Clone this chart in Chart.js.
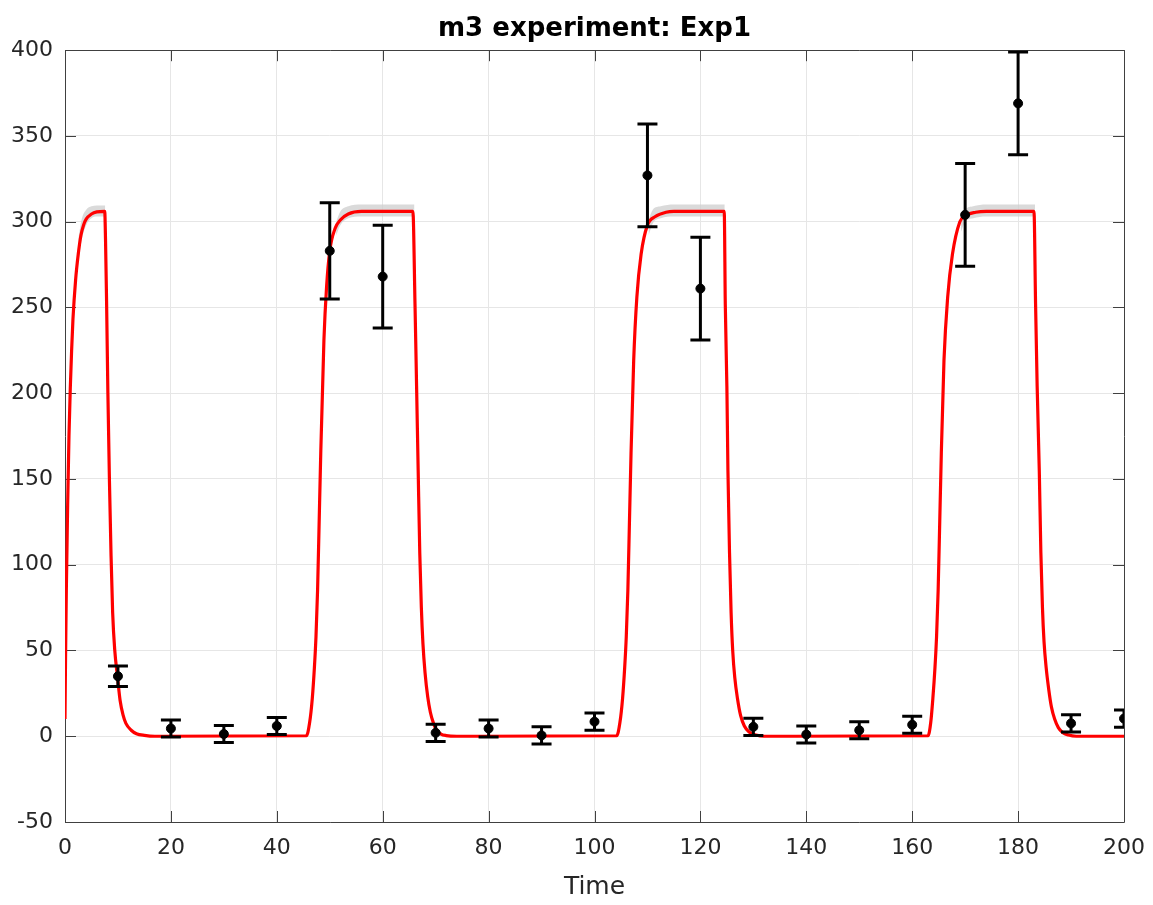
<!DOCTYPE html>
<html>
<head>
<meta charset="utf-8">
<script src="https://cdn.jsdelivr.net/npm/chart.js@4.4.1/dist/chart.umd.min.js"></script>
<style>
  html, body { margin: 0; padding: 0; background: #fff; }
</style>
</head>
<body>
<canvas id="expChart" width="1153" height="905"></canvas>
<script>
// MEASURED DATA (time, value, +/- error)
const obsTime  = [10, 20, 30, 40, 50, 60, 70, 80, 90, 100, 110, 120, 130, 140, 150, 160, 170, 180, 190, 200];
const obsValue = [35, 4.5, 1.3, 6, 283, 268, 2, 4.5, 0.5, 8.5, 327, 261, 5.5, 1, 3.5, 6.7, 304, 369, 7.5, 10.3];
const obsError = [6, 5, 5, 5, 28, 30, 5, 5, 5, 5, 30, 30, 5, 5, 5, 5, 30, 30, 5, 5];

// SIMULATED RESPONSE (red curve)
const curveTime = [
    0, 0.1, 0.25, 0.5, 0.75, 1, 1.25, 1.5, 2, 2.5, 3, 3.5, 4, 5, 6, 7.5,
    7.65, 7.85, 8.1, 8.4, 8.7, 9, 9.4, 9.9, 10.4, 11, 11.5, 12.5, 13.5, 15, 17,
    45.6, 46.2, 46.7, 47.1, 47.4, 47.7, 48, 48.3, 48.9, 49.4, 50, 51, 52, 53.5, 56, 65.7,
    66.1, 66.4, 66.7, 67, 67.3, 67.6, 68, 68.5, 69, 69.6, 70.2, 71, 72, 74,
    104.2, 104.8, 105.3, 105.7, 106, 106.3, 106.6, 106.9, 107.4, 108, 108.8, 110, 111.5, 113.5, 115, 124.5,
    124.7, 125, 125.2, 125.5, 125.8, 126.1, 126.5, 127, 127.6, 128.3, 129.2, 130.5, 132,
    163, 163.5, 163.9, 164.3, 164.6, 164.9, 165.2, 165.5, 166, 166.7, 167.6, 169, 170, 172, 174, 183,
    183.3, 183.6, 184, 184.3, 184.6, 184.9, 185.3, 185.8, 186.3, 186.9, 187.6, 188.4, 189.5, 191, 200
];
const curveValue = [
    10, 45, 85, 135, 175, 203, 225, 243, 266, 281, 292, 298, 301.5, 304.5, 305.7, 306,
    290, 254, 200, 148, 105, 72, 50, 35, 21, 12, 7.5, 3.5, 1.5, 0.5, 0,
    0.3, 8, 22, 40, 58, 85, 125, 165, 231, 262, 283, 296, 301, 304.5, 306, 306,
    252, 204, 155, 107, 75, 54, 37, 23, 14, 7.5, 3.5, 1.3, 0.4, 0,
    0.3, 8, 22, 40, 58, 85, 125, 165, 219, 256, 281, 298, 303, 305.5, 306, 306,
    252, 204, 155, 107, 72, 50, 34, 22, 12, 6, 2.5, 0.7, 0,
    0.3, 8, 22, 40, 58, 85, 125, 165, 219, 256, 281, 300, 303.5, 305.5, 306, 306,
    252, 204, 155, 107, 75, 55, 40, 27, 17, 10, 5, 2.2, 0.7, 0, 0
];

// UNCERTAINTY BAND ON THE PLATEAUS (grey)
const bandTime = [
    [2.5, 3.2, 4, 5, 6, 7.6],
    [51.2, 52, 53.5, 56, 66],
    [110.2, 111, 112.5, 115, 124.6],
    [169.2, 170, 171.5, 174, 183.2]
];
const bandHigh = [
    [290, 302, 307, 309, 309.5, 309.5],
    [300, 306, 309, 310, 310],
    [301, 307, 309, 310, 310],
    [302, 307, 309, 310, 310]
];
const bandLow = [
    [276, 290, 298, 302, 303, 303],
    [292, 298, 302, 303, 303],
    [292, 299, 302, 303, 303],
    [294, 300, 302, 303, 303]
];

const xTicks = [0, 20, 40, 60, 80, 100, 120, 140, 160, 180, 200];
const yTicks = [-50, 0, 50, 100, 150, 200, 250, 300, 350, 400];

const FONT = "'DejaVu Sans', sans-serif";
const AXIS_COLOR = "#404040";

function toPoints(xs, ys) {
    return xs.map((t, i) => ({ x: t, y: ys[i] }));
}

// box around the axes with inward ticks on all four sides
const axesBox = {
    id: "axesBox",
    beforeDatasetsDraw(chart) {
        const { ctx, chartArea: a, scales: { x, y } } = chart;
        ctx.save();
        ctx.strokeStyle = AXIS_COLOR;
        ctx.lineWidth = 1;
        ctx.beginPath();
        ctx.rect(Math.round(a.left) + 0.5, Math.round(a.top) + 0.5,
            Math.round(a.right - a.left), Math.round(a.bottom - a.top));
        ctx.stroke();
        const len = 11;
        ctx.beginPath();
        xTicks.forEach(v => {
            const px = Math.round(x.getPixelForValue(v)) + 0.5;
            ctx.moveTo(px, a.bottom); ctx.lineTo(px, a.bottom - len);
            ctx.moveTo(px, a.top); ctx.lineTo(px, a.top + len);
        });
        yTicks.forEach(v => {
            const py = Math.round(y.getPixelForValue(v)) + 0.5;
            ctx.moveTo(a.left, py); ctx.lineTo(a.left + len, py);
            ctx.moveTo(a.right, py); ctx.lineTo(a.right - len, py);
        });
        ctx.stroke();
        ctx.restore();
    }
};

// error bars, clipped to the plot area
const errorBars = {
    id: "errorBars",
    afterDatasetsDraw(chart) {
        const { ctx, chartArea: a, scales: { x, y } } = chart;
        ctx.save();
        ctx.beginPath();
        ctx.rect(a.left, a.top, a.right - a.left, a.bottom - a.top);
        ctx.clip();
        ctx.strokeStyle = "#000";
        ctx.lineWidth = 3;
        obsTime.forEach((t, i) => {
            const px = x.getPixelForValue(t);
            const lo = y.getPixelForValue(obsValue[i] - obsError[i]);
            const hi = y.getPixelForValue(obsValue[i] + obsError[i]);
            ctx.beginPath();
            ctx.moveTo(px, lo); ctx.lineTo(px, hi);
            ctx.moveTo(px - 10, lo); ctx.lineTo(px + 10, lo);
            ctx.moveTo(px - 10, hi); ctx.lineTo(px + 10, hi);
            ctx.stroke();
        });
        ctx.restore();
    }
};

// DATASETS
const datasets = [
    {
        label: "data",
        type: "scatter",
        data: toPoints(obsTime, obsValue),
        backgroundColor: "#000",
        borderColor: "#000",
        pointRadius: 4.5,
        clip: 0,
        order: 0
    },
    {
        label: "model",
        type: "line",
        data: toPoints(curveTime, curveValue),
        borderColor: "#ff0000",
        borderWidth: 3.2,
        pointRadius: 0,
        cubicInterpolationMode: "monotone",
        fill: false,
        order: 1
    }
];

bandTime.forEach((ts, k) => {
    const lowIndex = datasets.length;
    datasets.push({
        label: "bandLow" + k,
        type: "line",
        data: toPoints(ts, bandLow[k]),
        borderColor: "rgba(0,0,0,0)",
        borderWidth: 0,
        pointRadius: 0,
        cubicInterpolationMode: "monotone",
        fill: false,
        order: 2
    });
    datasets.push({
        label: "bandHigh" + k,
        type: "line",
        data: toPoints(ts, bandHigh[k]),
        borderColor: "rgba(0,0,0,0)",
        borderWidth: 0,
        backgroundColor: "rgba(205,205,205,0.75)",
        pointRadius: 0,
        cubicInterpolationMode: "monotone",
        fill: lowIndex,
        order: 2
    });
});

const chart = new Chart(document.getElementById("expChart"), {
    type: "line",
    data: { datasets: datasets },
    options: {
        responsive: false,
        animation: false,
        layout: { padding: { left: 0, right: 29, top: 0, bottom: 0 } },
        plugins: {
            legend: { display: false },
            tooltip: { enabled: false },
            title: {
                display: true,
                fullSize: false,
                text: "m3 experiment: Exp1",
                color: "#000",
                font: { family: FONT, size: 26, weight: "bold" },
                padding: { top: 14, bottom: 5 }
            }
        },
        scales: {
            x: {
                type: "linear",
                min: 0,
                max: 200,
                afterBuildTicks: scale => { scale.ticks = xTicks.map(v => ({ value: v })); },
                afterFit: scale => {
                    scale.height = 83;
                    scale.paddingLeft = 0;
                    scale.paddingRight = 0;
                },
                grid: { color: "#e6e6e6", drawTicks: false },
                border: { display: false },
                ticks: { color: "#262626", font: { family: FONT, size: 22 }, padding: 13, maxRotation: 0 },
                title: {
                    display: true,
                    text: "Time",
                    color: "#262626",
                    font: { family: FONT, size: 25 },
                    padding: { top: 0, bottom: 3 }
                }
            },
            y: {
                type: "linear",
                min: -50,
                max: 400,
                afterBuildTicks: scale => { scale.ticks = yTicks.map(v => ({ value: v })); },
                afterFit: scale => {
                    scale.width = 65;
                    scale.paddingTop = 0;
                    scale.paddingBottom = 0;
                },
                grid: { color: "#e6e6e6", drawTicks: false },
                border: { display: false },
                ticks: { color: "#262626", font: { family: FONT, size: 22 }, padding: 12 }
            }
        }
    },
    plugins: [axesBox, errorBars]
});
</script>
</body>
</html>
